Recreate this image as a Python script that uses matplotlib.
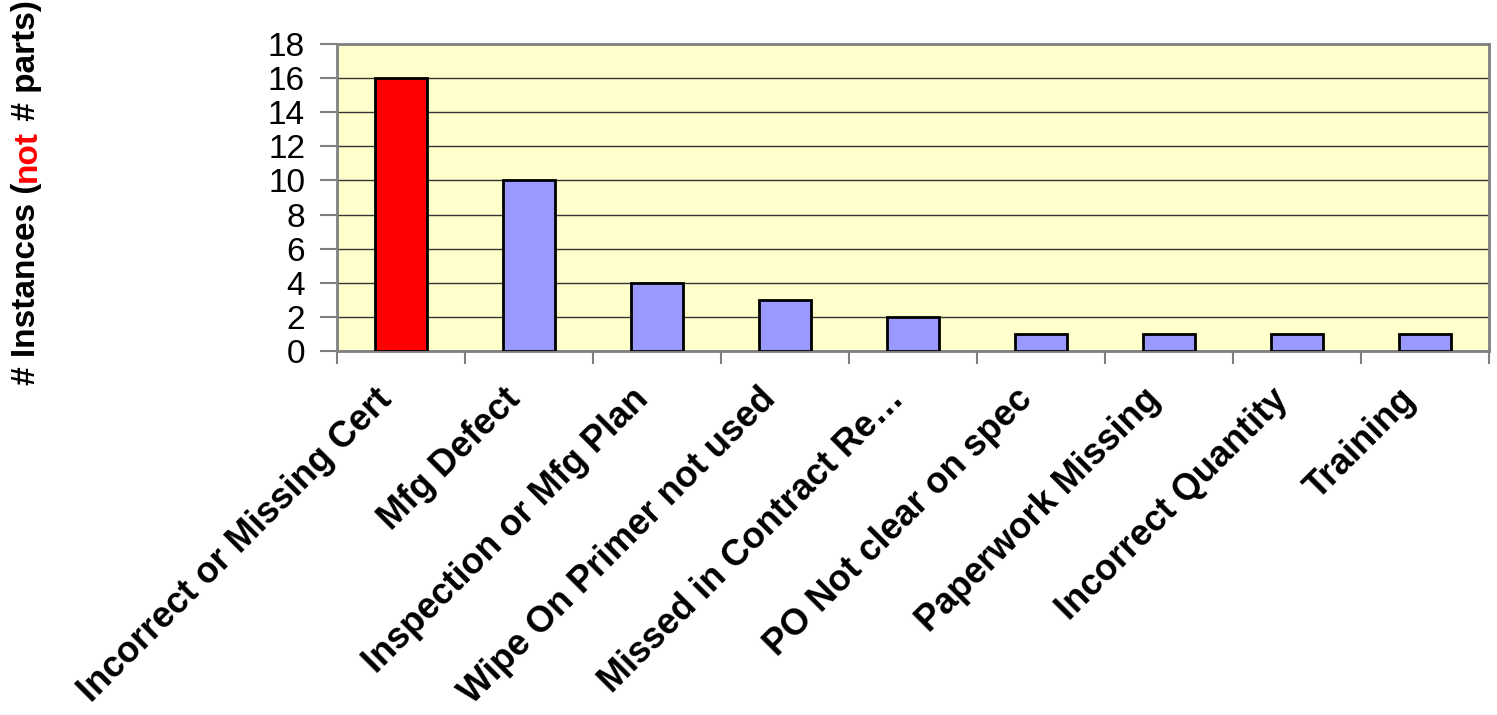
import matplotlib
matplotlib.use("Agg")
import matplotlib.pyplot as plt
import matplotlib.transforms as mtransforms
import numpy as np

categories = ["Incorrect or Missing Cert", "Mfg Defect", "Inspection or Mfg Plan",
              "Wipe On Primer not used", "Missed in Contract Re\u2026",
              "PO Not clear on spec", "Paperwork Missing", "Incorrect Quantity",
              "Training"]
instances = [16, 10, 4, 3, 2, 1, 1, 1, 1]
bar_colors = ["#FF0000"] + ["#9999FF"] * 8
yticks = np.arange(0, 19, 2)

plt.rcParams['font.family'] = ['Liberation Sans', 'DejaVu Sans']

fig = plt.figure(figsize=(14.97, 7.15), dpi=100)
ax = fig.add_axes([337 / 1497, 1 - 351 / 715, 1152 / 1497, 307 / 715])
ax.set_facecolor("#FFFFCC")

x = np.arange(len(categories))
ax.bar(x, instances, width=0.41, color=bar_colors, edgecolor="black",
       linewidth=2, zorder=3)

ax.set_xlim(-0.5, len(categories) - 0.5)
ax.set_ylim(0, 18)
ax.set_yticks(yticks)
ax.set_yticklabels([str(v) for v in yticks], fontsize=24)
ax.yaxis.grid(True, color="#333333", linewidth=1)
ax.set_axisbelow(True)

ax.set_xticks(x)
ax.set_xticklabels(categories, rotation=45, ha="right", va="center",
                   rotation_mode="anchor", fontsize=26, fontweight="bold")
ax.set_xticks(np.arange(-0.5, len(categories)), minor=True)
ax.tick_params(axis="x", which="major", length=0, pad=31)
ax.tick_params(axis="x", which="minor", length=9, width=1.5, color="#808080",
               direction="out")
ax.tick_params(axis="y", length=12, width=1.5, color="#808080", pad=11)

# nudge the slanted labels a bit to the left
shift = mtransforms.ScaledTranslation(-14 / 100, 0, fig.dpi_scale_trans)
for lbl in ax.get_xticklabels():
    lbl.set_transform(lbl.get_transform() + shift)

for s in ax.spines.values():
    s.set_color("#808080")
    s.set_linewidth(2)

# y label in three pieces so "not" can be red
pieces = [("# Instances (", "black"), ("not", "#FF0000"), (" # parts)", "black")]
renderer = fig.canvas.get_renderer()
ypos = 1 - 385 / 715
for txt, col in pieces:
    t = fig.text(27 / 1497, ypos, txt, rotation=90, ha="center", va="bottom",
                 fontsize=24, fontweight="bold", color=col)
    bb = t.get_window_extent(renderer)
    ypos = bb.y1 / fig.bbox.height

fig.savefig("out.png", dpi=100)
plt.close(fig)
